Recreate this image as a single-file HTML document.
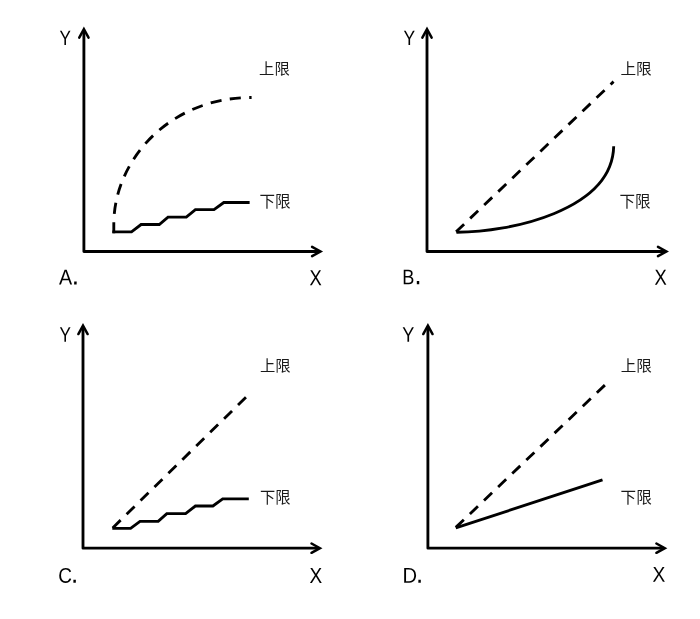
<!DOCTYPE html>
<html lang="zh">
<head>
<meta charset="utf-8">
<title>上限 下限</title>
<style>
html,body{margin:0;padding:0;background:#fff;}
body{width:700px;height:619px;overflow:hidden;}
svg{display:block;}
.ax{fill:none;stroke:#000;stroke-width:2.85;stroke-linecap:butt;stroke-linejoin:round;}
.ah{fill:none;stroke:#000;stroke-width:2.5;stroke-linecap:round;stroke-linejoin:miter;stroke-miterlimit:10;}
.ln{fill:none;stroke:#000;stroke-width:2.85;stroke-linecap:butt;stroke-linejoin:miter;}
.sq{stroke-linecap:square;}
.ds{fill:none;stroke:#000;stroke-width:2.85;stroke-dasharray:11.1 8.4;stroke-linecap:butt;}
.lt{font-family:"Liberation Sans",sans-serif;font-size:20px;fill:#000;}
.cj{font-family:"Liberation Sans","Noto Sans CJK SC",sans-serif;font-size:16px;font-weight:400;fill:#1a1a1a;}
</style>
</head>
<body>
<svg width="700" height="619" viewBox="0 0 700 619">
<rect width="700" height="619" fill="#fff"/>
<!-- Panel A -->
<g>
<path class="ax" d="M83.90,30.20 L83.90,251.50 L319.50,251.50"/>
<path class="ah" d="M79.25,37.60 L83.90,29.20 L88.55,37.60"/>
<path class="ah" d="M312.10,246.85 L320.50,251.50 L312.10,256.15"/>
<text class="lt" transform="translate(59.57,45.10) scale(0.8548,1.0435) rotate(0.03)">Y</text>
<text class="lt" transform="translate(309.54,285.30) scale(0.9194,1.0942) rotate(0.03)">X</text>
<text class="lt" transform="translate(58.90,284.60) scale(0.9848,1.0730) rotate(0.03)">A<tspan x="13.02" style="font-size:26.78px">.</tspan></text>
<text class="cj" transform="translate(259.09,74.31) scale(0.9570,0.9323)">上限</text>
<text class="cj" transform="translate(259.50,206.93) scale(0.9724,0.9943)">下限</text>
<path class="ds" d="M113.8,233.3 L113.8,224 C113.8,162 167.6,97.5 251.6,97.5"/>
<path class="ln sq" d="M113.80,231.90 L131.50,231.90 L141.10,224.50 L159.30,224.50 L168.00,217.10 L186.30,217.10 L195.40,209.60 L214.00,209.60 L223.80,202.50 L248.20,202.50"/>
</g>
<!-- Panel B -->
<g>
<path class="ax" d="M427.00,30.20 L427.00,251.50 L665.40,251.50"/>
<path class="ah" d="M422.35,37.60 L427.00,29.20 L431.65,37.60"/>
<path class="ah" d="M658.00,246.85 L666.40,251.50 L658.00,256.15"/>
<text class="lt" transform="translate(403.46,45.10) scale(0.8710,1.0435) rotate(0.03)">Y</text>
<text class="lt" transform="translate(654.54,284.70) scale(0.9194,1.0942) rotate(0.03)">X</text>
<text class="lt" transform="translate(402.15,284.30) scale(0.9065,1.0580) rotate(0.03)">B<tspan x="13.68" style="font-size:28.07px">.</tspan></text>
<text class="cj" transform="translate(620.48,74.49) scale(0.9764,0.9461)">上限</text>
<text class="cj" transform="translate(619.50,206.93) scale(0.9724,0.9943)">下限</text>
<path class="ds" style="stroke-dasharray:11.05 8.36" d="M456.10,231.80 L613.56,81.62"/>
<path class="ln" d="M456.3,232.2 C509.3,232.4 612.2,210.7 613.7,146.3"/>
</g>
<!-- Panel C -->
<g>
<path class="ax" d="M83.00,326.65 L83.00,548.15 L318.90,548.15"/>
<path class="ah" d="M78.35,334.05 L83.00,325.65 L87.65,334.05"/>
<path class="ah" d="M311.50,543.50 L319.90,548.15 L311.50,552.80"/>
<text class="lt" transform="translate(59.57,341.70) scale(0.8548,1.0507) rotate(0.03)">Y</text>
<text class="lt" transform="translate(309.42,583.00) scale(0.9516,1.0942) rotate(0.03)">X</text>
<text class="lt" transform="translate(58.15,582.79) scale(0.9524,1.0634) rotate(0.03)">C<tspan x="13.46" style="font-size:27.36px">.</tspan></text>
<text class="cj" transform="translate(259.99,370.89) scale(0.9570,0.9461)">上限</text>
<text class="cj" transform="translate(260.11,503.45) scale(0.9530,0.9730)">下限</text>
<path class="ds" d="M112.70,527.90 L246.59,396.64"/>
<path class="ln" d="M112.30,528.30 L130.60,528.30 L140.00,521.40 L158.20,521.40 L166.80,513.60 L185.60,513.60 L195.40,506.00 L212.90,506.00 L222.70,498.80 L248.80,498.80"/>
</g>
<!-- Panel D -->
<g>
<path class="ax" d="M427.90,326.65 L427.90,548.15 L663.80,548.15"/>
<path class="ah" d="M423.25,334.05 L427.90,325.65 L432.55,334.05"/>
<path class="ah" d="M656.40,543.50 L664.80,548.15 L656.40,552.80"/>
<text class="lt" transform="translate(402.25,341.70) scale(0.9032,1.0507) rotate(0.03)">Y</text>
<text class="lt" transform="translate(652.52,581.70) scale(0.9597,1.0797) rotate(0.03)">X</text>
<text class="lt" transform="translate(402.39,582.80) scale(1.0084,1.0725) rotate(0.03)">D<tspan x="13.51" style="font-size:25.51px">.</tspan></text>
<text class="cj" transform="translate(620.68,370.91) scale(0.9699,0.9323)">上限</text>
<text class="cj" transform="translate(620.60,503.45) scale(0.9724,0.9730)">下限</text>
<path class="ds" d="M455.80,527.40 L605.54,384.47"/>
<path class="ln" d="M455.8,527.9 L602.5,479.8"/>
</g>
</svg>
</body>
</html>
